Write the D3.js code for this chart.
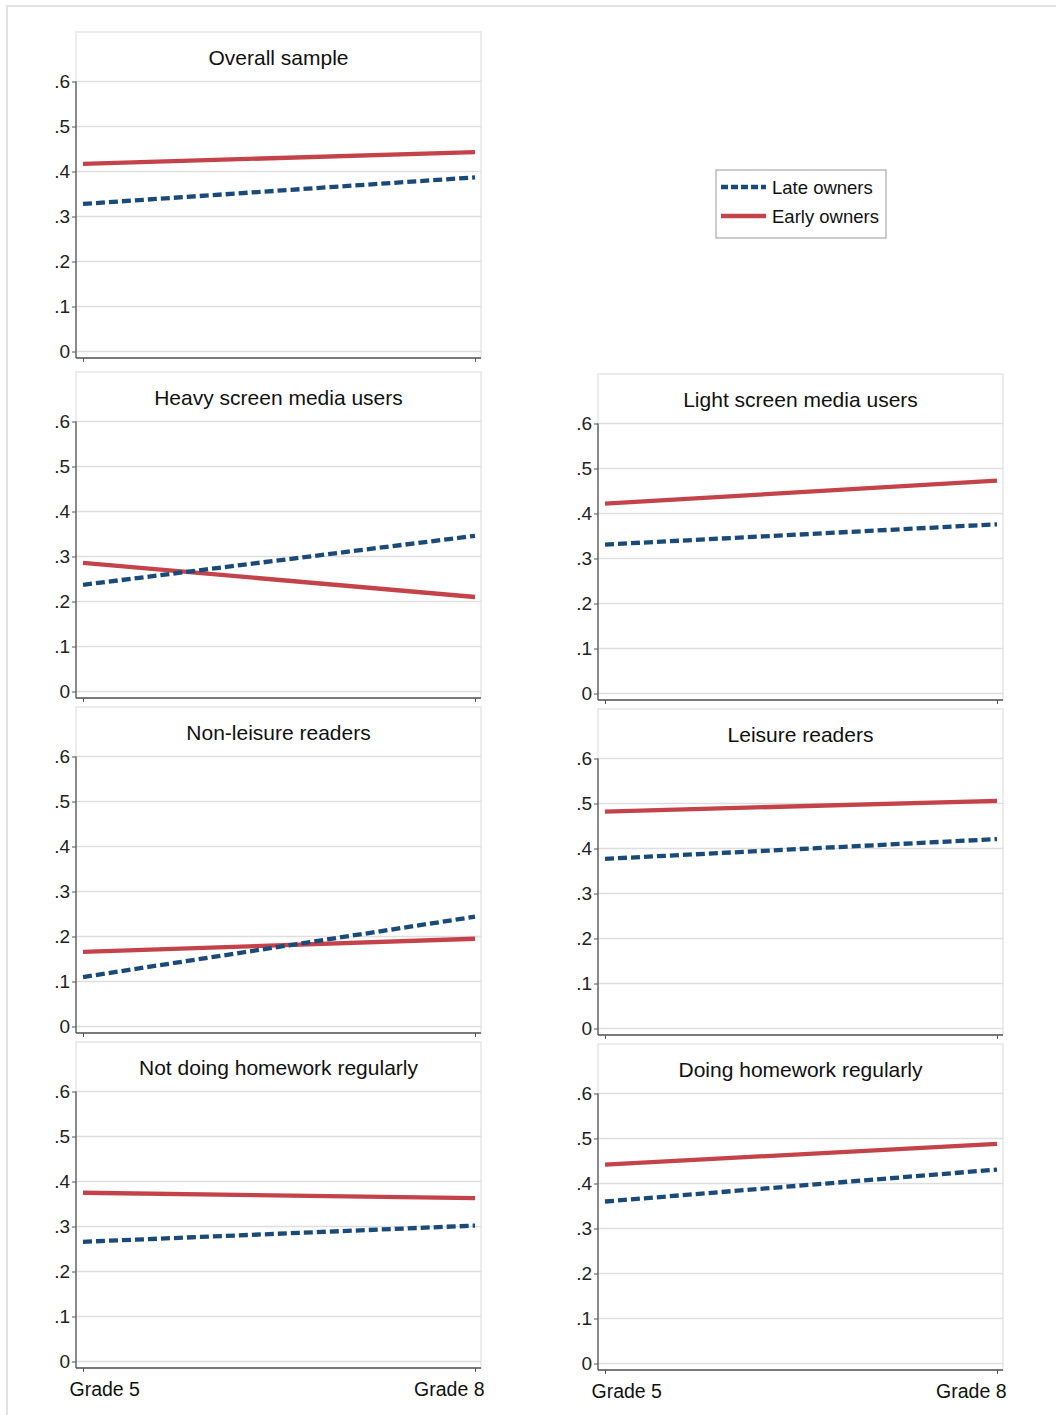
<!DOCTYPE html>
<html>
<head>
<meta charset="utf-8">
<script src="https://cdn.jsdelivr.net/npm/d3@7"></script>
<style>
  body { margin: 0; background: #fff; }
  svg { display: block; font-family: Arial, "Liberation Sans", sans-serif; }
</style>
</head>
<body>
<div id="chart"></div>
<script>
// panel titles, in reading order
var panels = ["Overall sample", "Heavy screen media users", "Light screen media users",
    "Non-leisure readers", "Leisure readers", "Not doing homework regularly", "Doing homework regularly"];
var grades = ["Grade 5", "Grade 8"];
var seriesNames = ["Late owners", "Early owners"];

// [grade 5, grade 8] per panel
var lateOwners = [[0.328, 0.387], [0.237, 0.346], [0.331, 0.376], [0.110, 0.244],
    [0.377, 0.421], [0.266, 0.302], [0.360, 0.431]];
var earlyOwners = [[0.417, 0.443], [0.286, 0.210], [0.422, 0.473], [0.166, 0.195],
    [0.482, 0.506], [0.375, 0.363], [0.442, 0.488]];

var yTicks = [0, 0.1, 0.2, 0.3, 0.4, 0.5, 0.6];
var yTickLabels = ["0", ".1", ".2", ".3", ".4", ".5", ".6"];

// panel placement: left edge, top edge, whether x labels are shown
var layout = [
    {left: 76, top: 32, labels: false},
    {left: 76, top: 372, labels: false},
    {left: 598, top: 374, labels: false},
    {left: 76, top: 707, labels: false},
    {left: 598, top: 709, labels: false},
    {left: 76, top: 1042, labels: true},
    {left: 598, top: 1044, labels: true}
];

var width = 1056, height = 1415;
var panelW = 405;
var lateColor = "#1a4a78", earlyColor = "#c4434a";

var svg = d3.select("#chart").append("svg")
    .attr("width", width)
    .attr("height", height);

// outer frame
svg.append("rect")
    .attr("x", 7).attr("y", 6)
    .attr("width", 1200).attr("height", 1600)
    .attr("fill", "none")
    .attr("stroke", "#e2e2e2")
    .attr("stroke-width", 2);

panels.forEach(function(title, i) {
    var L = layout[i];
    var left = L.left, right = L.left + panelW;
    var top = L.top;
    var yTop = top + 49.5, yBottom = top + 319.5, axisY = top + 326;

    var x = d3.scalePoint().domain(grades).range([left + 7, right - 6]);
    var y = d3.scaleLinear().domain([0, 0.6]).range([yBottom, yTop]);

    var g = svg.append("g");

    // panel box
    g.append("rect")
        .attr("x", left).attr("y", top)
        .attr("width", panelW).attr("height", axisY - top)
        .attr("fill", "none")
        .attr("stroke", "#e6e6e6")
        .attr("stroke-width", 1.5);

    // gridlines
    g.selectAll(".grid").data(yTicks).enter().append("line")
        .attr("x1", left).attr("x2", right)
        .attr("y1", function(d) { return y(d); })
        .attr("y2", function(d) { return y(d); })
        .attr("stroke", "#dedede")
        .attr("stroke-width", 1.3);

    g.append("text")
        .attr("x", (left + right) / 2)
        .attr("y", top + 25)
        .attr("text-anchor", "middle")
        .attr("dominant-baseline", "central")
        .style("font-size", "21px")
        .attr("fill", "#111")
        .text(title);

    // y axis
    var yAxis = g.append("g")
        .attr("transform", "translate(" + left + ",0)")
        .call(d3.axisLeft(y).tickValues(yTicks).tickSize(4).tickPadding(2)
            .tickFormat(function(d, j) { return yTickLabels[j]; }));
    yAxis.select(".domain").remove();
    yAxis.selectAll("line").attr("stroke", "#555");
    yAxis.selectAll("text").style("font-size", "19px").attr("fill", "#222")
        .attr("font-family", null);

    // x axis
    var xAxis = g.append("g")
        .attr("transform", "translate(0," + axisY + ")")
        .call(d3.axisBottom(x).tickSize(4).tickSizeOuter(0).tickPadding(10));
    xAxis.select(".domain").remove();
    xAxis.selectAll("line").attr("stroke", "#555");
    if (L.labels) {
        xAxis.selectAll("text")
            .style("font-size", "19.5px").attr("fill", "#111").attr("font-family", null)
            .attr("text-anchor", function(d, j) { return j == 0 ? "start" : "end"; })
            .attr("dx", function(d, j) { return j == 0 ? -14 : 9; });
    } else {
        xAxis.selectAll("text").remove();
    }

    // axis lines
    g.append("line")
        .attr("x1", left).attr("x2", left)
        .attr("y1", yTop).attr("y2", axisY)
        .attr("stroke", "#555").attr("stroke-width", 1.3);
    g.append("line")
        .attr("x1", left).attr("x2", right)
        .attr("y1", axisY).attr("y2", axisY)
        .attr("stroke", "#555").attr("stroke-width", 1.3);

    var line = d3.line()
        .x(function(d, j) { return x(grades[j]); })
        .y(function(d) { return y(d); });

    g.append("path")
        .attr("d", line(earlyOwners[i]))
        .attr("fill", "none")
        .attr("stroke", earlyColor)
        .attr("stroke-width", 4.3);

    g.append("path")
        .attr("d", line(lateOwners[i]))
        .attr("fill", "none")
        .attr("stroke", lateColor)
        .attr("stroke-width", 4.3)
        .attr("stroke-dasharray", "9,4");
});

// legend
var legend = svg.append("g").attr("transform", "translate(716,170)");
legend.append("rect")
    .attr("width", 170).attr("height", 68)
    .attr("fill", "#fff")
    .attr("stroke", "#999")
    .attr("stroke-width", 1);

var legendItems = legend.selectAll(".item").data(seriesNames).enter().append("g")
    .attr("class", "item")
    .attr("transform", function(d, j) { return "translate(0," + (17 + j * 29) + ")"; });

legendItems.append("line")
    .attr("x1", 5).attr("x2", 50)
    .attr("stroke", function(d, j) { return j == 0 ? lateColor : earlyColor; })
    .attr("stroke-width", 4.3)
    .attr("stroke-dasharray", function(d, j) { return j == 0 ? "7,3" : null; });

legendItems.append("text")
    .attr("x", 56)
    .attr("dominant-baseline", "central")
    .style("font-size", "18.5px")
    .attr("fill", "#111")
    .text(function(d) { return d; });
</script>
</body>
</html>
